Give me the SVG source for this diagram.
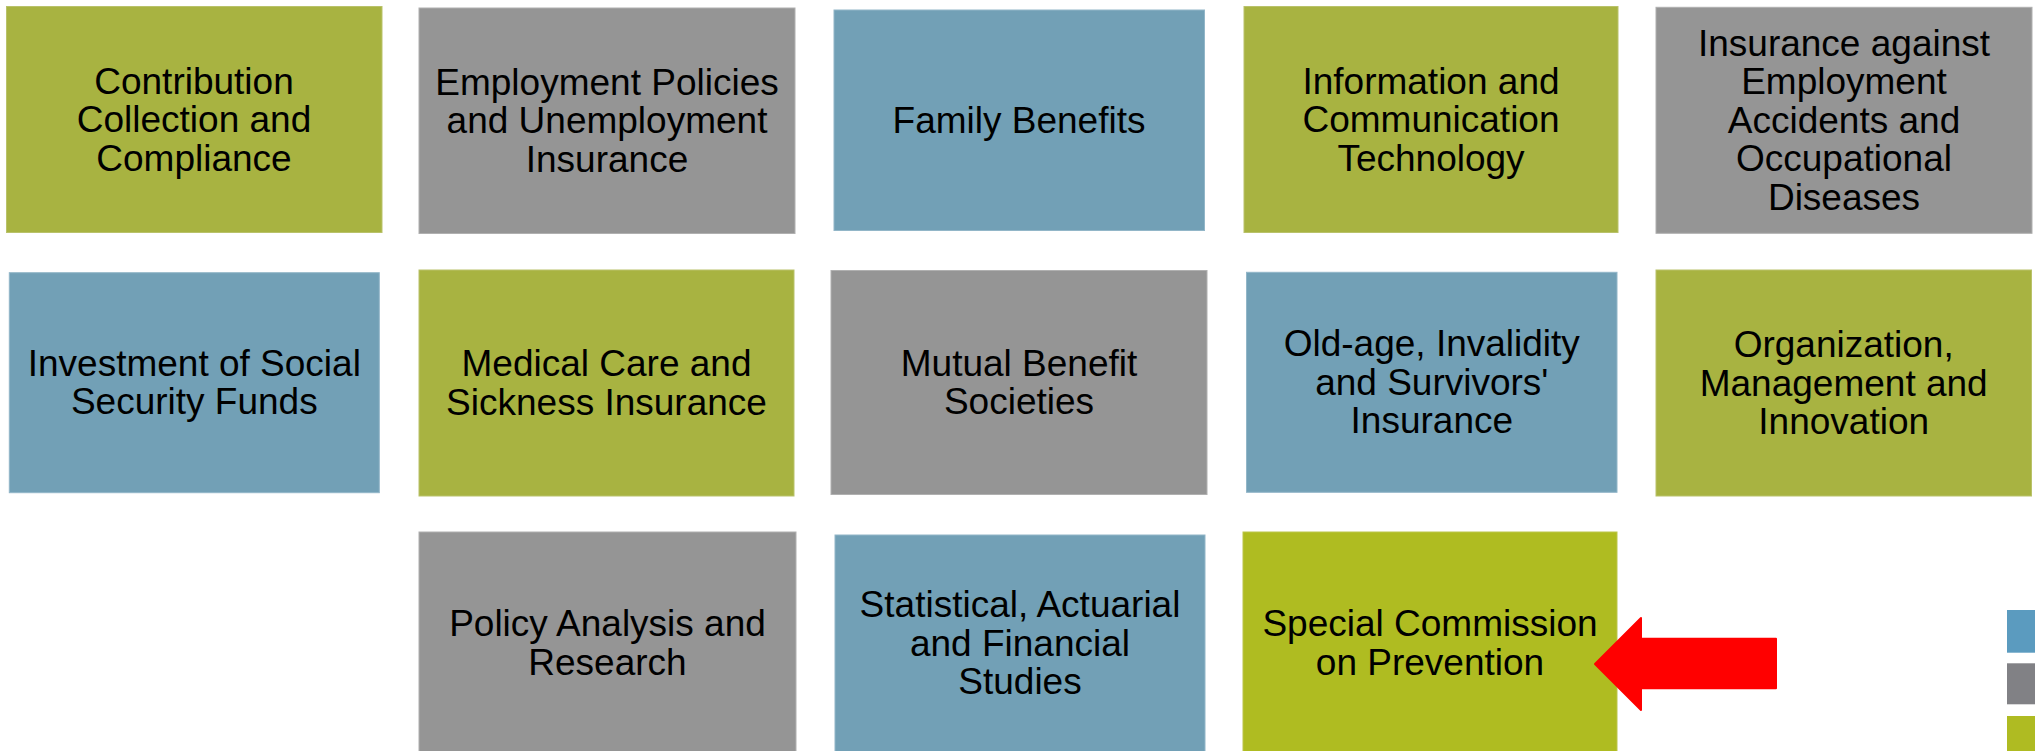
<svg xmlns="http://www.w3.org/2000/svg" width="2035" height="751" viewBox="0 0 2035 751">
<style>
.g{fill:#a8b341;stroke:#b9c26a;stroke-width:1}
.s{fill:#959595;stroke:#b0b0b0;stroke-width:1}
.b{fill:#72a0b6;stroke:#92b6c8;stroke-width:1}
.hg{fill:#afbc21;stroke:#bcc64a;stroke-width:1}
text{font-family:"Liberation Sans",Arial,sans-serif;font-size:37px;fill:#000;text-anchor:middle}
</style>
<rect width="2035" height="751" fill="#ffffff"/>
<g id="n1"><rect class="g" x="6.5" y="6.5" width="375.5" height="226"/>
<text x="194" y="93.5">Contribution</text><text x="194" y="132">Collection and</text><text x="194" y="170.5">Compliance</text></g>
<g id="n2"><rect class="s" x="419" y="8" width="376" height="225.5"/>
<text x="607" y="94.7">Employment Policies</text><text x="607" y="133.2">and Unemployment</text><text x="607" y="171.7">Insurance</text></g>
<g id="n3"><rect class="b" x="834" y="10" width="370.5" height="220.5"/>
<text x="1019" y="132.5">Family Benefits</text></g>
<g id="n4"><rect class="g" x="1244" y="6.5" width="374" height="226"/>
<text x="1431" y="93.6">Information and</text><text x="1431" y="132.1">Communication</text><text x="1431" y="170.6">Technology</text></g>
<g id="n5"><rect class="s" x="1656" y="7.3" width="376" height="226"/>
<text x="1844" y="55.8">Insurance against</text><text x="1844" y="94.3">Employment</text><text x="1844" y="132.8">Accidents and</text><text x="1844" y="171.3">Occupational</text><text x="1844" y="209.8">Diseases</text></g>
<g id="n6"><rect class="b" x="9.3" y="272.7" width="370" height="220"/>
<text x="194.3" y="375.5">Investment of Social</text><text x="194.3" y="414">Security Funds</text></g>
<g id="n7"><rect class="g" x="419" y="270" width="375" height="226"/>
<text x="606.5" y="376">Medical Care and</text><text x="606.5" y="414.5">Sickness Insurance</text></g>
<g id="n8"><rect class="s" x="831" y="270.5" width="376" height="224"/>
<text x="1019" y="375.5">Mutual Benefit</text><text x="1019" y="414">Societies</text></g>
<g id="n9"><rect class="b" x="1246.5" y="272.3" width="370.5" height="220"/>
<text x="1431.8" y="356">Old-age, Invalidity</text><text x="1431.8" y="394.5">and Survivors'</text><text x="1431.8" y="433">Insurance</text></g>
<g id="n10"><rect class="g" x="1656" y="270" width="375.5" height="226"/>
<text x="1843.7" y="357">Organization,</text><text x="1843.7" y="395.5">Management and</text><text x="1843.7" y="434">Innovation</text></g>
<g id="n11"><rect class="s" x="419" y="532" width="377" height="222"/>
<text x="607.5" y="636">Policy Analysis and</text><text x="607.5" y="674.5">Research</text></g>
<g id="n12"><rect class="b" x="835" y="535" width="370" height="220"/>
<text x="1020" y="617">Statistical, Actuarial</text><text x="1020" y="655.5">and Financial</text><text x="1020" y="694">Studies</text></g>
<g id="n13"><rect class="hg" x="1243" y="532" width="374" height="222"/>
<text x="1430" y="636">Special Commission</text><text x="1430" y="674.5">on Prevention</text></g>
<g id="legend">
<rect x="2007" y="610" width="40" height="42.7" fill="#5b9bbf"/>
<rect x="2007" y="663.3" width="40" height="41" fill="#818185"/>
<rect x="2007" y="716" width="40" height="42" fill="#afbb22"/>
</g>
<g id="connectors">
<path d="M1595,664 L1641,618 L1641,638.7 L1776,638.7 L1776,688.3 L1641,688.3 L1641,710 Z" fill="#ff0000" stroke="#ff0000" stroke-width="2" stroke-linejoin="round"/>
</g>
</svg>
